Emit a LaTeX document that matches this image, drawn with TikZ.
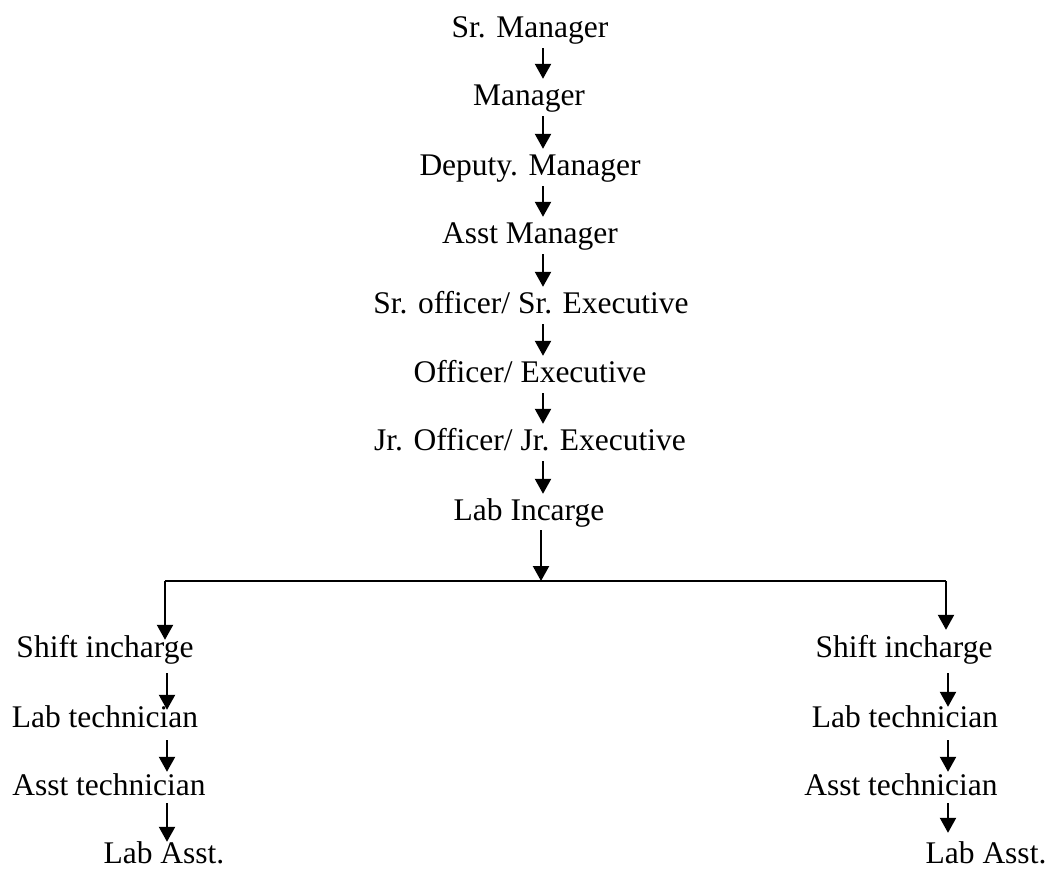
\documentclass[tikz,border=0pt]{standalone}
\usepackage{fontspec}
\setmainfont{Liberation Serif}
\usetikzlibrary{arrows.meta}
\begin{document}
\begin{tikzpicture}[x=1pt,y=-1pt,
  role/.style={font=\fontsize{31.5}{36}\selectfont, inner sep=0pt,
               text height=22pt, text depth=7pt, anchor=base},
  arr/.style={line width=2.2pt, -{Triangle[length=15pt,width=16pt]}},
  link/.style={line width=2pt},
  chain/.style={arr, shorten <=4pt, shorten >=4pt}]
\useasboundingbox (0,0) rectangle (1049,868);

% main chain
\node[role] (srm) at (530,37)  {Sr. Manager};
\node[role] (man) at (529,105) {Manager};
\node[role] (dep) at (530,175) {Deputy. Manager};
\node[role] (asm) at (530,243) {Asst Manager};
\node[role] (sro) at (531,313) {Sr. officer/ Sr. Executive};
\node[role] (off) at (530,382) {Officer/ Executive};
\node[role] (jro) at (530,450) {Jr. Officer/ Jr. Executive};
\node[role] (lic) at (529,520) {Lab Incarge};

\coordinate (colM) at (543,0);
\draw[chain] (srm.south -| colM) -- (man.north -| colM);
\draw[chain] (man.south -| colM) -- (dep.north -| colM);
\draw[chain] (dep.south -| colM) -- (asm.north -| colM);
\draw[chain] (asm.south -| colM) -- (sro.north -| colM);
\draw[chain] (sro.south -| colM) -- (off.north -| colM);
\draw[chain] (off.south -| colM) -- (jro.north -| colM);
\draw[chain] (jro.south -| colM) -- (lic.north -| colM);

% branch
\coordinate (hub) at (541,581);
\coordinate (brL) at (165,581);
\coordinate (brR) at (946,581);
\draw[arr, shorten <=3pt] (lic.south -| hub) -- (hub);
\draw[link] (brL) -- (brR);

% left column
\node[role] (sl) at (105,657) {Shift incharge};
\node[role] (tl) at (105,727) {Lab technician};
\node[role] (al) at (109,795) {Asst technician};
\node[role] (ll) at (164,863) {Lab Asst.};
\coordinate (colL) at (167,0);
\draw[arr, shorten >=-5pt] (brL) -- (brL |- sl.north);
\draw[arr, shorten <=9pt, shorten >=-5pt] (sl.south -| colL) -- (tl.north -| colL);
\draw[arr, shorten <=6pt, shorten >=1pt] (tl.south -| colL) -- (al.north -| colL);
\draw[arr, shorten <=1pt, shorten >=-1pt] (al.south -| colL) -- (ll.north -| colL);

% right column
\node[role] (sr) at (904,657) {Shift incharge};
\node[role] (tr) at (905,727) {Lab technician};
\node[role] (ar) at (901,795) {Asst technician};
\node[role] (lr) at (986,863) {Lab Asst.};
\coordinate (colR) at (948,0);
\draw[arr, shorten >=5pt] (brR) -- (brR |- sr.north);
\draw[arr, shorten <=9pt, shorten >=-2pt] (sr.south -| colR) -- (tr.north -| colR);
\draw[arr, shorten <=6pt, shorten >=1pt] (tr.south -| colR) -- (ar.north -| colR);
\draw[arr, shorten <=1pt, shorten >=8pt] (ar.south -| colR) -- (lr.north -| colR);
\end{tikzpicture}
\end{document}
